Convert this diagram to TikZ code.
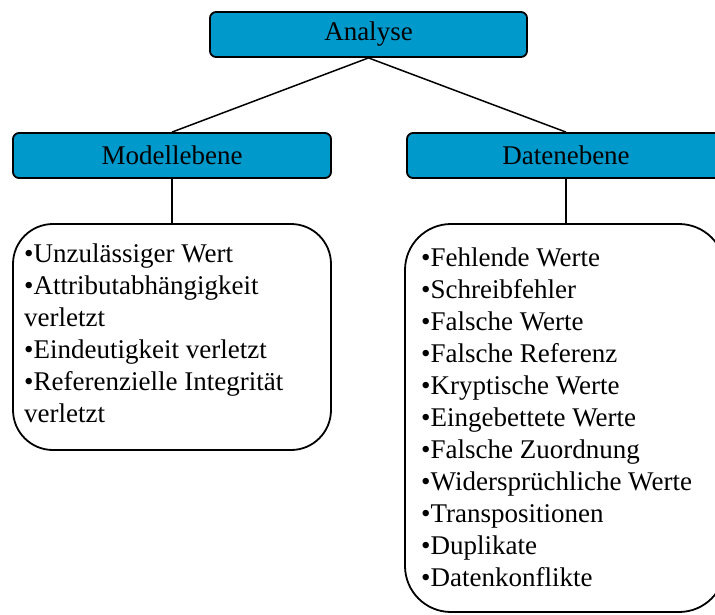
\documentclass[tikz,border=0pt]{standalone}
\usepackage{fontspec}
\setmainfont{Liberation Serif}
\definecolor{headblue}{RGB}{0,153,204}
\tikzset{
  headbox/.style={draw=black, line width=1.8pt, fill=headblue, rounded corners=6pt,
    minimum height=45pt, inner sep=0pt, font=\fontsize{27}{32}\selectfont},
  listbox/.style={draw=black, line width=1.8pt, fill=white, inner sep=0pt},
  listtext/.style={anchor=north west, align=left, inner sep=0pt,
    font=\fontsize{27}{32}\selectfont},
  link/.style={draw=black, line width=1.5pt}
}
\begin{document}
\begin{tikzpicture}[x=1pt,y=-1pt]
  \path[use as bounding box] (0,0) rectangle (715,614);

  % header boxes
  \node[headbox, minimum width=317pt] (ana) at (368.5,34.5) {Analyse};
  \node[headbox, minimum width=318pt] (mod) at (172,155.5) {Modellebene};
  \node[headbox, minimum width=318pt] (dat) at (566,155.5) {Datenebene};

  % list boxes
  \node[listbox, rounded corners=40pt, minimum width=318pt, minimum height=226pt]
    (mbox) at (172,337) {};
  \node[listbox, rounded corners=46pt, minimum width=320pt, minimum height=388pt]
    (dbox) at (565,418) {};

  % connectors
  \draw[link] (ana.south) -- (mod.north);
  \draw[link] (ana.south) -- (dat.north);
  \draw[link] (mod.south) -- (mod.south |- mbox.north);
  \draw[link] (dat.south) -- (dat.south |- dbox.north);

  % list contents
  \node[listtext] (mtext) at (24,244) {•Unzulässiger Wert\\
    •Attributabhängigkeit\\
    verletzt\\
    •Eindeutigkeit verletzt\\
    •Referenzielle Integrität\\
    verletzt};
  \node[listtext] (dtext) at (421,248) {•Fehlende Werte\\
    •Schreibfehler\\
    •Falsche Werte\\
    •Falsche Referenz\\
    •Kryptische Werte\\
    •Eingebettete Werte\\
    •Falsche Zuordnung\\
    •Widersprüchliche Werte\\
    •Transpositionen\\
    •Duplikate\\
    •Datenkonflikte};
\end{tikzpicture}
\end{document}
